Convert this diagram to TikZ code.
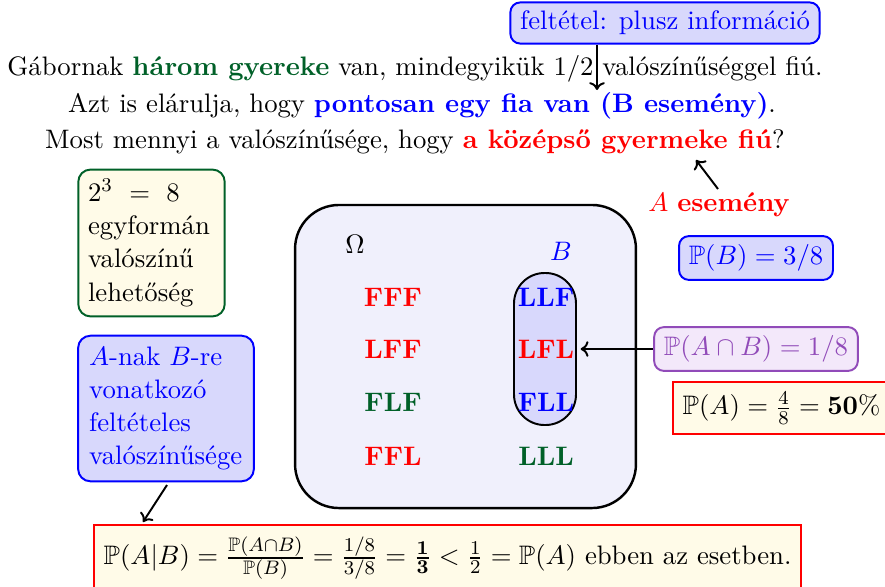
\documentclass[tikz,border=0pt]{standalone}
\usepackage{amsmath,amssymb}
\usetikzlibrary{arrows.meta}
\definecolor{dgreen}{RGB}{0,96,40}
\definecolor{mypurple}{RGB}{145,75,185}
\definecolor{ylw}{RGB}{255,251,232}
\definecolor{lblue}{RGB}{216,216,252}
\definecolor{omfill}{RGB}{240,240,252}
\definecolor{lpurple}{RGB}{243,232,250}
\tikzset{
  every node/.append style={font=\fontsize{10.95}{13.6}\selectfont},
  bluebox/.style={draw=blue, fill=lblue, text=blue, line width=0.8pt, rounded corners=4pt, inner xsep=4pt, inner ysep=3.5pt},
  greenbox/.style={draw=dgreen, fill=ylw, line width=0.8pt, rounded corners=5pt, inner sep=4pt, align=left},
  purplebox/.style={draw=mypurple, fill=lpurple, text=mypurple, line width=0.8pt, rounded corners=4pt, inner xsep=4pt, inner ysep=3.5pt},
  redbox/.style={draw=red, fill=ylw, line width=0.8pt, inner xsep=4pt, inner ysep=4pt},
  arr/.style={-{To[length=3.2pt,width=6.4pt]}, line width=0.8pt},
  outcome/.style={font=\fontsize{10.95}{13.6}\selectfont\bfseries}
}
\begin{document}
\begin{tikzpicture}[x=0.4098pt,y=-0.4098pt]
\useasboundingbox (0,0) rectangle (885,586);
% header box
\node[bluebox] (felt) at (665,23) {feltétel: plusz információ};
% text lines
\node[anchor=base, inner sep=0pt] (l1) at (415,75) {Gábornak \textbf{\color{dgreen}három gyereke} van, mindegyikük 1/2 valószínűséggel fiú.};
\node[anchor=base, inner sep=0pt] (l2) at (422,112) {Azt is elárulja, hogy \textbf{\color{blue}pontosan egy fia van (B esemény)}.};
\node[anchor=base, inner sep=0pt] (l3) at (415,148) {Most mennyi a valószínűsége, hogy \textbf{\color{red}a középső gyermeke fiú}?};
\coordinate (ftip) at (597,90);
\draw[arr] (felt.south -| ftip) -- (ftip);
% A esemeny
\node[text=red] (aesem) at (719,205) {$A$ \textbf{esemény}};
\coordinate (as) at (718,189);
\coordinate (atip) at (696,160);
\draw[arr] (as) -- (atip);
% left boxes
\node[greenbox, text width=52pt] (eight) at (151.5,243) {$2^3\ =\ 8$\\egyformán\\valószínű\\lehetőség};
\node[bluebox, align=left, inner sep=4.5pt, rounded corners=5pt, text width=63pt] (cond) at (166,408.5) {$A$-nak $B$-re\\vonatkozó\\feltételes\\valószínűsége};
\coordinate (cs) at (167,485);
\coordinate (ct) at (143,522);
\draw[arr] (cs) -- (ct);
% Omega box
\node[draw=black, fill=omfill, line width=1pt, rounded corners=18pt, minimum width=139.7pt, minimum height=124.2pt] (omega) at (465.5,356.5) {};
\node (om) at (355,244) {$\Omega$};
\node[text=blue] (blab) at (561,251) {$B$};
\node[draw=black, fill=lblue, line width=0.8pt, rounded corners=12.5pt, minimum width=25.4pt, minimum height=62.3pt] (bset) at (545,349) {};
\node[outcome, text=red] (fff) at (393,297) {FFF};
\node[outcome, text=red] (lff) at (393,349) {LFF};
\node[outcome, text=dgreen] (flf) at (393,402) {FLF};
\node[outcome, text=red] (ffl) at (393,456) {FFL};
\node[outcome, text=blue] (llf) at (546,297) {LLF};
\node[outcome, text=red] (lfl) at (546,349) {LFL};
\node[outcome, text=blue] (fll) at (546,402) {FLL};
\node[outcome, text=dgreen] (lll) at (546,456) {LLL};
% right boxes
\node[bluebox] (pb) at (756,258) {$\mathbb{P}(B)=3/8$};
\node[purplebox] (pab) at (756,349) {$\mathbb{P}(A\cap B)=1/8$};
\draw[arr] (pab) -- ([xshift=1.5pt]bset.east);
\node[redbox, anchor=west] (pa) at (672,408) {$\mathbb{P}(A)=\frac{4}{8}=\mathbf{50}\%$\hspace{8pt}};
% bottom box
\node[redbox, anchor=west, inner ysep=5pt] (res) at (93,558) {$\mathbb{P}(A|B)=\frac{\mathbb{P}(A\cap B)}{\mathbb{P}(B)}=\frac{1/8}{3/8}=\frac{\mathbf{1}}{\mathbf{3}}<\frac{1}{2}=\mathbb{P}(A)$ ebben az esetben.};
\end{tikzpicture}
\end{document}
